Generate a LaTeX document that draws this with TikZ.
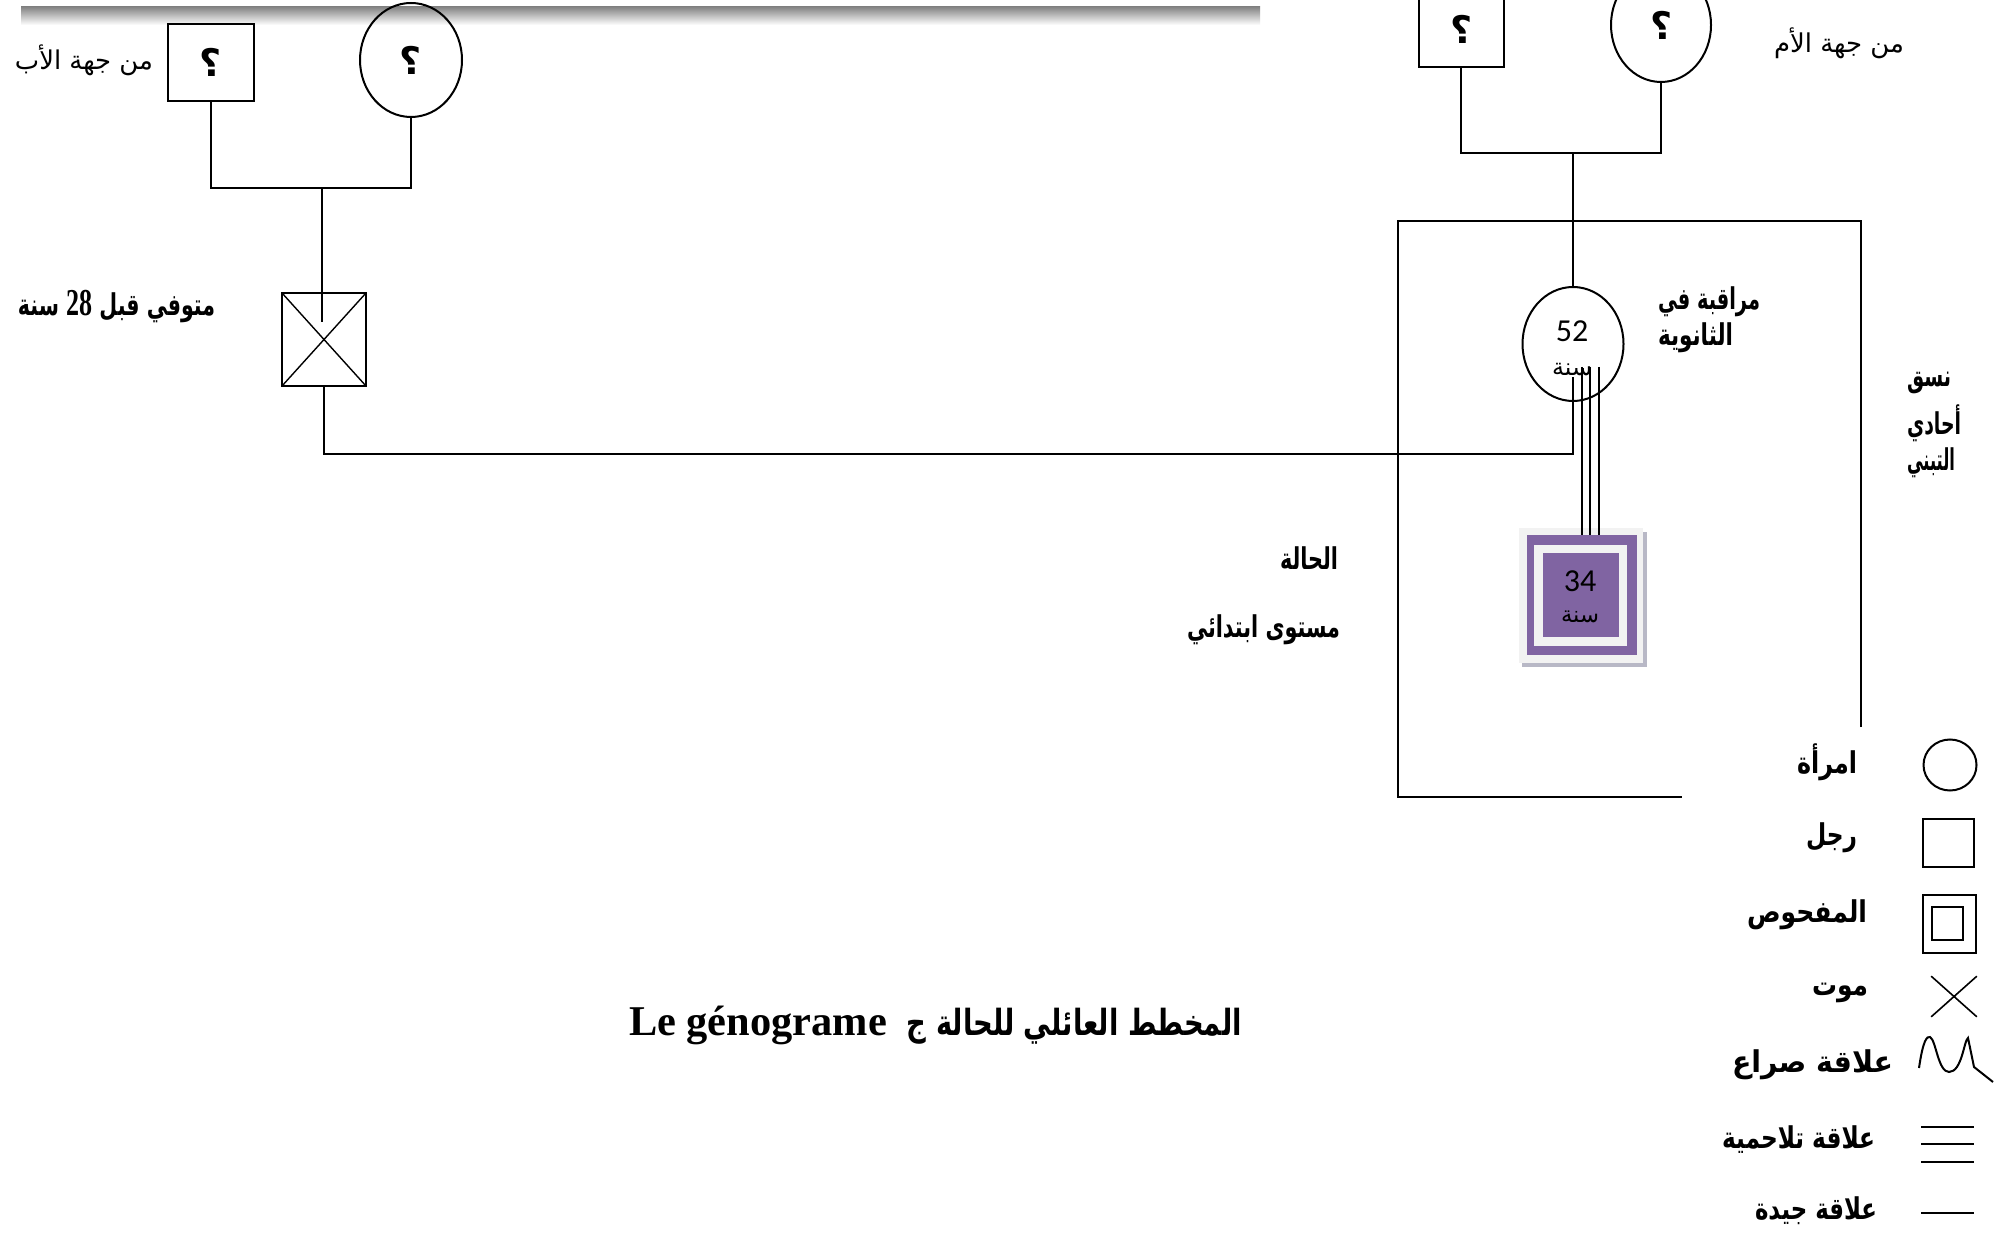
\documentclass[tikz,border=0pt]{standalone}
\usepackage{fontspec}
\usetikzlibrary{shapes.geometric,shapes.misc,calc}
\setmainfont{Liberation Serif}
\newfontfamily\arabf[Script=Arabic]{DejaVu Sans}
\newfontfamily\calf{Carlito}
\TeXXeTstate=1
\newdimen\pxu \pxu=0.5pt
\newcommand{\fw}[2]{\resizebox{#1\pxu}{!}{#2}}
\newcommand{\fx}[2]{\resizebox{#1\pxu}{\height}{#2}}
\newcommand{\AR}[1]{{\arabf\beginR #1\endR}}
\newcommand{\ARB}[1]{{\arabf\bfseries\beginR #1\endR}}
\definecolor{purp}{HTML}{8064A2}
\definecolor{lightf}{HTML}{F2F2F2}
\definecolor{shadowc}{HTML}{B8B8C6}
\tikzset{
  lbl/.style={inner sep=0pt, outer sep=0pt},
  blab/.style={inner sep=0pt, outer sep=0pt, font=\arabf\bfseries\fontsize{15pt}{18pt}\selectfont},
  sq/.style={rectangle, draw, inner sep=0pt, outer sep=0pt, font=\arabf\bfseries\fontsize{19pt}{22pt}\selectfont},
  circ/.style={ellipse, draw, inner sep=0pt, outer sep=0pt, font=\arabf\bfseries\fontsize{19pt}{22pt}\selectfont},
  age/.style={inner sep=0pt, font=\calf\fontsize{16pt}{18pt}\selectfont},
  blk/.style={rectangle, inner sep=0pt, outer sep=0pt},
}
\begin{document}
\begin{tikzpicture}[x=0.5pt,y=-0.5pt,line width=1pt]
\useasboundingbox (0,0) rectangle (2006,1234);
\clip (0,0) rectangle (2006,1234);
\fill[white] (0,0) rectangle (2006,1234);
% grey bar
\shade[top color=black!48, bottom color=white] (21,7) rectangle (1260,25);

% paternal side
\node[sq, minimum width=43pt, minimum height=38.5pt] (pgf) at (211,62.5) {؟};
\node[circ, minimum width=51pt, minimum height=57pt] (pgm) at (411,60) {؟};
\node[lbl] (plabel) at (84,60) {\fw{138}{\AR{من جهة الأب}}};
\coordinate (ph) at (322,188);
\draw (pgf.south) |- (ph) -| (pgm.south);
\node[blk, draw, minimum width=42pt, minimum height=46.5pt] (dec) at (324,339.5) {};
\draw[line width=0.7pt] (dec.north west) -- (dec.south east) (dec.north east) -- (dec.south west);
\coordinate (decin) at (322,322);
\draw (ph) -- (decin);
\node[blab, anchor=west] (declbl) at (18,307) {\fx{197}{\arabf\bfseries\beginR متوفي قبل \beginL{\rmfamily\bfseries\fontsize{19pt}{22pt}\selectfont 28}\endL{} سنة\endR}};

% maternal side
\node[sq, minimum width=42.5pt, minimum height=38.5pt] (mgf) at (1461,29) {؟};
\node[circ, minimum width=50pt, minimum height=57pt] (mgm) at (1661,25) {؟};
\node[lbl] (mlabel) at (1839,43) {\fw{130}{\AR{من جهة الأم}}};
\coordinate (mh) at (1573,153);
\draw (mgf.south) |- (mh) -| (mgm.south);
\node[circ, minimum width=50.5pt, minimum height=57pt] (mother) at (1573,344) {};
\draw (mh) -- (mother.north);
\node[age] (m52) at (1572,331) {52};
\node[lbl] (msana) at (1572,370) {\fw{40}{\AR{سنة}}};

% link from deceased father to mother
\coordinate (mc) at (1573,454);
\coordinate (mIn) at (1573,377);
\draw (dec.south) |- (mc) -- (mIn);

% adoption system frame
\draw (1861,727) -- (1861,221) -- (1398,221) -- (1398,797) -- (1682,797);

% child
\fill[shadowc] (1522,532) rectangle (1647,667);
\node[blk, fill=lightf, minimum width=62pt, minimum height=67.5pt] (childF) at (1581,595.5) {};
\node[blk, fill=purp, minimum width=55pt, minimum height=60pt] (childP) at (1582,595) {};
\node[blk, fill=lightf, minimum width=46.5pt, minimum height=50.5pt] (childI) at (1580.5,595.5) {};
\node[blk, fill=purp, minimum width=38pt, minimum height=42pt] (child) at (1581,595) {};
\node[age] (c34) at (1580,581) {34};
\node[lbl] (csana) at (1580,617) {\fw{38}{\AR{سنة}}};

% fusional relation (three lines)
\foreach \xx/\nm in {1582/a,1590/b,1599/c}{
  \coordinate (t\nm) at (\xx,367);
  \draw (t\nm) -- (t\nm |- childP.north);
}

% labels
\node[blab, anchor=west] (mj1) at (1658,302) {\fx{102}{\ARB{مراقبة في}}};
\node[blab, anchor=west] (mj2) at (1658,338) {\fx{75}{\ARB{الثانوية}}};
\node[blab, anchor=west] (ns1) at (1907,383) {\fx{44}{\ARB{نسق}}};
\node[blab, anchor=west] (ns2) at (1907,423) {\fx{54}{\ARB{أحادي}}};
\node[blab, anchor=west] (ns3) at (1907,463) {\fx{48}{\ARB{التبني}}};
\node[blab, anchor=east] (hal) at (1338,558) {\fx{58}{\ARB{الحالة}}};
\node[blab, anchor=east] (mst) at (1340,630) {\fx{153}{\ARB{مستوى ابتدائي}}};

% legend
\node[ellipse, draw, inner sep=0pt, minimum width=26.5pt, minimum height=25.5pt] (lw) at (1950,765) {};
\node[blk, draw, minimum width=25.5pt, minimum height=24pt] (lm) at (1948.5,843) {};
\node[blk, draw, minimum width=26.5pt, minimum height=29pt] (lp) at (1949.5,924) {};
\node[blk, draw, minimum width=15.5pt, minimum height=16.5pt] (lpi) at (1947.5,923.5) {};
\node[cross out, draw, line width=0.8pt, inner sep=0pt, minimum width=22pt, minimum height=19.5pt] (lx) at (1954,996.5) {};
\draw (1919,1068) .. controls (1923,1040) and (1927,1036) .. (1930,1037)
      .. controls (1936,1040) and (1938,1072) .. (1949,1072)
      .. controls (1962,1072) and (1964,1040) .. (1968,1038)
      -- (1974,1067) -- (1993,1082);
\foreach \yy in {1127,1144,1162}{ \draw (1921,\yy) -- (1974,\yy); }
\draw (1921,1213) -- (1974,1213);

\node[blab, anchor=east] (lg1) at (1857,762) {\fx{60}{\ARB{امرأة}}};
\node[blab, anchor=east] (lg2) at (1857,838) {\fx{51}{\ARB{رجل}}};
\node[blab, anchor=east] (lg3) at (1867,915) {\fx{120}{\ARB{المفحوص}}};
\node[blab, anchor=east] (lg4) at (1868,993) {\fx{56}{\ARB{موت}}};
\node[blab, anchor=east] (lg5) at (1893,1065) {\fx{161}{\ARB{علاقة صراع}}};
\node[blab, anchor=east] (lg6) at (1875,1140) {\fx{153}{\ARB{علاقة تلاحمية}}};
\node[blab, anchor=east] (lg7) at (1877,1211) {\fx{122}{\ARB{علاقة جيدة}}};

% title
\node[lbl, anchor=west] (title) at (629,1025) {\fontsize{21.2pt}{24pt}\selectfont\bfseries Le génograme\hspace*{10pt}\fx{335}{\arabf\bfseries\fontsize{18pt}{22pt}\selectfont\beginR المخطط العائلي للحالة ج\endR}};
\end{tikzpicture}
\end{document}
